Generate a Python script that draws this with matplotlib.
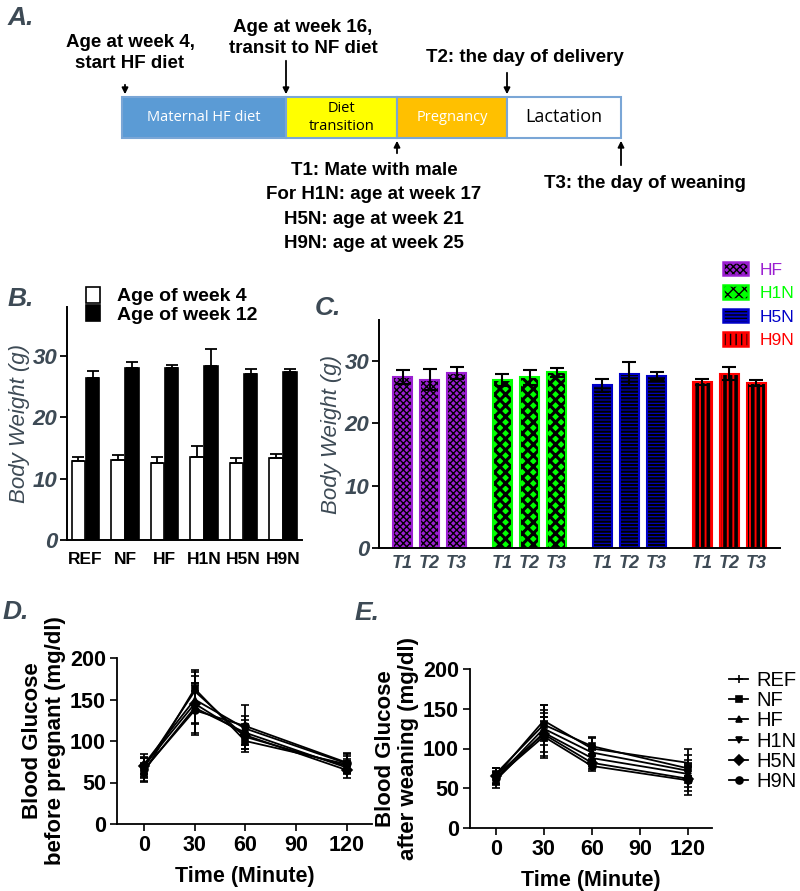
import numpy as np
import matplotlib
matplotlib.use("Agg")
import matplotlib.pyplot as plt
from matplotlib.patches import Rectangle, Patch
from matplotlib.lines import Line2D
from matplotlib.legend_handler import HandlerTuple

plt.rcParams['font.family'] = ['Liberation Sans', 'DejaVu Sans']

GRAY = '#3d4a55'

# ---------------- data ----------------
# panel A timeline (x edges in pixels of the schematic)
seg_edges = [122, 286, 397, 507, 621]
seg_labels = ['Maternal HF diet', 'Diet\ntransition', 'Pregnancy', 'Lactation']
seg_colors = ['#5b9bd5', '#ffff00', '#ffc000', '#ffffff']
seg_text_colors = ['white', 'black', 'white', 'black']

# panel B body weight
groups_b = ['REF', 'NF', 'HF', 'H1N', 'H5N', 'H9N']
wk4 = [12.9, 13.1, 12.5, 13.6, 12.5, 13.3]
wk4_err = [0.6, 0.8, 1.1, 1.7, 0.8, 0.8]
wk12 = [26.5, 28.0, 28.1, 28.3, 27.1, 27.4]
wk12_err = [1.1, 1.1, 0.5, 2.9, 0.8, 0.5]

# panel C body weight at T1/T2/T3
groups_c = ['HF', 'H1N', 'H5N', 'H9N']
times_c = ['T1', 'T2', 'T3']
bw_c = [[27.4, 27.0, 28.1],
        [27.0, 27.4, 28.2],
        [26.1, 28.0, 27.6],
        [26.6, 28.0, 26.5]]
bw_c_err = [[1.1, 1.7, 0.9],
            [1.0, 1.2, 0.7],
            [1.0, 1.9, 0.7],
            [0.5, 1.1, 0.5]]
colors_c = ['#9b1fd1', '#00ff00', '#0000c8', '#ff0000']
hatch_c = ['xxxxx', 'xxx', '-----', '|||']
hatch_lw = [1.0, 2.2, 1.6, 2.6]

# panels D / E glucose tolerance
minutes = [0, 30, 60, 120]
series = ['REF', 'NF', 'HF', 'H1N', 'H5N', 'H9N']
markers = ['+', 's', '^', 'v', 'D', 'o']
gluc_d = [[68, 160, 105, 70],
          [62, 163, 100, 72],
          [72, 150, 115, 73],
          [65, 140, 110, 68],
          [70, 145, 107, 65],
          [66, 137, 118, 74]]
gluc_d_err = [[12, 25, 15, 8],
              [10, 20, 10, 10],
              [12, 28, 28, 12],
              [8, 30, 15, 8],
              [10, 25, 12, 10],
              [15, 30, 12, 10]]
gluc_e = [[65, 135, 100, 82],
          [68, 130, 103, 75],
          [62, 125, 95, 72],
          [60, 120, 88, 68],
          [66, 118, 82, 62],
          [63, 115, 78, 60]]
gluc_e_err = [[10, 20, 15, 17],
              [8, 25, 10, 10],
              [8, 15, 8, 20],
              [10, 25, 10, 12],
              [10, 30, 8, 15],
              [8, 25, 6, 18]]

W, H = 800, 891
fig = plt.figure(figsize=(W / 100, H / 100), dpi=100)


def px_axes(left, top, right, bottom):
    return fig.add_axes([left / W, 1 - bottom / H, (right - left) / W, (bottom - top) / H])


def panel_letter(x, y, s):
    fig.text(x / W, 1 - y / H, s, fontsize=19, fontweight='bold', style='italic',
             color=GRAY, ha='left', va='top')


##### A: timeline
axa = fig.add_axes([0, 1 - 260 / H, 1, 260 / H])
axa.set_xlim(0, W)
axa.set_ylim(260, 0)
axa.axis('off')
bar_top, bar_bot = 97, 138
for i in range(4):
    x0, x1 = seg_edges[i], seg_edges[i + 1]
    axa.add_patch(Rectangle((x0, bar_top), x1 - x0, bar_bot - bar_top,
                            facecolor=seg_colors[i], edgecolor='#7aa6d6', lw=1.5))
    fs = 13 if i == 3 else 10.5
    axa.text((x0 + x1) / 2, (bar_top + bar_bot) / 2, seg_labels[i], ha='center', va='center',
             fontsize=fs, color=seg_text_colors[i], family='Open Sans', linespacing=1.3)

txt = dict(fontsize=13.5, fontweight='bold', ha='center', va='center')
arr = dict(arrowstyle='-|>', color='black', lw=1.3, mutation_scale=9)
axa.text(130, 53, 'Age at week 4,\nstart HF diet', linespacing=1.35, **txt)
axa.annotate('', xy=(seg_edges[0] + 3, bar_top), xytext=(seg_edges[0] + 3, 82), arrowprops=arr)
axa.text(303, 38, 'Age at week 16,\ntransit to NF diet', linespacing=1.3, **txt)
axa.annotate('', xy=(seg_edges[1], bar_top), xytext=(seg_edges[1], 58), arrowprops=arr)
axa.text(525, 58, 'T2: the day of delivery', **txt)
axa.annotate('', xy=(seg_edges[3], bar_top), xytext=(seg_edges[3], 70), arrowprops=arr)
axa.text(374, 207, 'T1: Mate with male\nFor H1N: age at week 17\nH5N: age at week 21\nH9N: age at week 25',
         linespacing=1.55, **txt)
axa.annotate('', xy=(seg_edges[2], bar_bot), xytext=(seg_edges[2], 156), arrowprops=arr)
axa.text(645, 183, 'T3: the day of weaning', **txt)
axa.annotate('', xy=(seg_edges[4], bar_bot), xytext=(seg_edges[4], 168), arrowprops=arr)
panel_letter(8, 6, 'A.')

##### B: body weight week 4 / 12
axb = px_axes(67, 307, 302, 540)
xb = np.arange(len(groups_b))
bw = 0.34
axb.bar(xb - 0.18, wk4, bw, yerr=[np.zeros(6), wk4_err], color='white', edgecolor='black', lw=1.2,
        error_kw=dict(ecolor='black', elinewidth=1.3, capsize=4, capthick=1.3), label='Age of week 4')
axb.bar(xb + 0.18, wk12, bw, yerr=[np.zeros(6), wk12_err], color='black', edgecolor='black', lw=1.2,
        error_kw=dict(ecolor='black', elinewidth=1.3, capsize=4, capthick=1.3), label='Age of week 12')
axb.set_xlim(-0.47, 5.48)
axb.set_ylim(0, 38)
axb.set_yticks([0, 10, 20, 30])
axb.set_xticks(xb)
axb.set_xticklabels(groups_b, fontsize=12.5, fontweight='bold')
axb.tick_params(axis='x', length=0, pad=9)
axb.tick_params(axis='y', length=5, width=1.3, pad=2)
for t in axb.get_yticklabels():
    t.set_fontsize(16)
    t.set_fontweight('bold')
    t.set_style('italic')
    t.set_color(GRAY)
axb.set_ylabel('Body Weight (g)', fontsize=16, style='italic', color=GRAY, labelpad=2)
for s in ['top', 'right']:
    axb.spines[s].set_visible(False)
for s in ['left', 'bottom']:
    axb.spines[s].set_linewidth(1.4)
axb.legend(loc='upper left', bbox_to_anchor=(86 / W, 1 - 287 / H), bbox_transform=fig.transFigure,
           frameon=False, prop=dict(weight='bold', size=14), handlelength=0.7,
           handleheight=0.85, handletextpad=0.9, labelspacing=0.0, borderpad=0, borderaxespad=0)
panel_letter(8, 287, 'B.')

##### C: body weight T1-T3
axc = px_axes(379, 320, 780, 548)
gap = 3.7
handles = []
for g in range(len(groups_c)):
    xs = g * gap + np.arange(3)
    bars = axc.bar(xs, bw_c[g], 0.7, color=colors_c[g], edgecolor='black', lw=0, hatch=hatch_c[g])
    for b in bars:
        if hasattr(b, 'set_hatch_linewidth'):
            b.set_hatch_linewidth(hatch_lw[g])
    axc.bar(xs, bw_c[g], 0.7, fill=False, edgecolor=colors_c[g], lw=1.5)
    axc.errorbar(xs, bw_c[g], yerr=bw_c_err[g], fmt='none', ecolor='black', elinewidth=1.5,
                 capsize=5, capthick=1.5)
    p1 = Patch(facecolor=colors_c[g], edgecolor='black', hatch=hatch_c[g], lw=0)
    if hasattr(p1, 'set_hatch_linewidth'):
        p1.set_hatch_linewidth(hatch_lw[g])
    p2 = Patch(fill=False, edgecolor=colors_c[g], lw=1.8)
    handles.append((p1, p2))
axc.set_xlim(-0.87, 3 * gap + 2 + 0.87)
axc.set_ylim(0, 36.6)
axc.set_yticks([0, 10, 20, 30])
xt = [g * gap + t for g in range(4) for t in range(3)]
axc.set_xticks(xt)
axc.set_xticklabels(times_c * 4, fontsize=13, fontweight='bold', style='italic', color=GRAY)
axc.tick_params(axis='x', length=0, pad=5)
axc.tick_params(axis='y', length=5, width=1.3, pad=2)
for t in axc.get_yticklabels():
    t.set_fontsize(16)
    t.set_fontweight('bold')
    t.set_style('italic')
    t.set_color(GRAY)
axc.set_ylabel('Body Weight (g)', fontsize=16, style='italic', color=GRAY, labelpad=2)
for s in ['top', 'right']:
    axc.spines[s].set_visible(False)
for s in ['left', 'bottom']:
    axc.spines[s].set_linewidth(1.4)
legc = fig.legend(handles, groups_c, handler_map={tuple: HandlerTuple(ndivide=1)},
                  loc='upper left', bbox_to_anchor=(723 / W, 1 - 262 / H), frameon=False,
                  fontsize=12.5, handlelength=1.45, handleheight=0.8, handletextpad=0.65,
                  labelspacing=0.45, borderpad=0, borderaxespad=0)
for t, c in zip(legc.get_texts(), colors_c):
    t.set_color(c)
panel_letter(315, 296, 'C.')


##### D / E: glucose
def glucose(ax, vals, errs, ylab):
    for k in range(len(series)):
        ax.errorbar(minutes, vals[k], yerr=errs[k], color='black', lw=1.3, marker=markers[k],
                    ms=5 if markers[k] != '+' else 6, mew=1.2, capsize=3, elinewidth=1.3,
                    capthick=1.3, label=series[k])
    ax.set_xlim(-16, 135)
    ax.set_ylim(0, 200)
    ax.set_xticks([0, 30, 60, 90, 120])
    ax.set_yticks([0, 50, 100, 150, 200])
    ax.tick_params(length=5, width=1.2, labelsize=15.5, pad=3)
    for t in ax.get_xticklabels() + ax.get_yticklabels():
        t.set_fontweight('bold')
    ax.set_xlabel('Time (Minute)', fontsize=15.5, fontweight='bold', labelpad=7)
    ax.set_ylabel(ylab, fontsize=16, fontweight='bold', labelpad=3, linespacing=1.1)
    for s in ['top', 'right']:
        ax.spines[s].set_visible(False)
    for s in ['left', 'bottom']:
        ax.spines[s].set_linewidth(1.3)


axd = px_axes(117, 658, 372, 824)
glucose(axd, gluc_d, gluc_d_err, 'Blood Glucose\nbefore pregnant (mg/dl)')
panel_letter(3, 600, 'D.')

axe = px_axes(470, 669, 712, 828)
glucose(axe, gluc_e, gluc_e_err, 'Blood Glucose\nafter weaning (mg/dl)')
panel_letter(355, 601, 'E.')
leg_handles = [Line2D([], [], color='black', lw=1.3, marker=m, ms=5 if m != '+' else 6, mew=1.2)
               for m in markers]
fig.legend(leg_handles, series, loc='center left', bbox_to_anchor=(729 / W, 1 - 731 / H),
           frameon=False, fontsize=14.5, handlelength=0.95, handletextpad=0.4, labelspacing=0.06,
           borderpad=0, borderaxespad=0)

fig.savefig('out.png', dpi=100)
